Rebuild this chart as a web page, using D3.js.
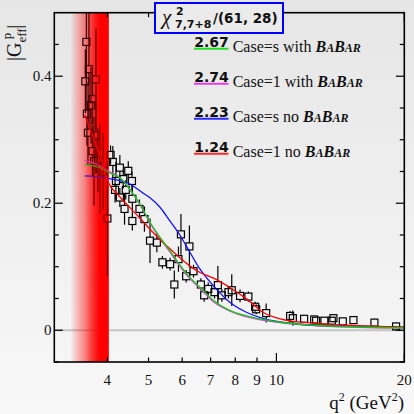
<!DOCTYPE html>
<html>
<head>
<meta charset="utf-8">
<script src="https://cdn.jsdelivr.net/npm/d3@7"></script>
<style>
  html, body { margin: 0; padding: 0; background: #eee; }
  svg { display: block; }
</style>
</head>
<body>
<div id="chart"></div>
<script>
const W = 414, H = 414;

// red band: fade start, fully red, end (q2 in GeV2)
const bandQ = [3.27, 3.84, 4.03];

// points inside the band
const bandPtQ = [3.57, 3.62, 3.55, 3.76, 3.69, 3.66, 3.58, 3.60, 3.76, 3.69, 3.72, 3.80, 3.84, 3.91, 4.00];
const bandPtG = [0.454, 0.411, 0.392, 0.395, 0.364, 0.354, 0.341, 0.311, 0.307, 0.282, 0.266, 0.268, 0.254, 0.250, 0.176];
const bandPtE = [0.07, 0.09, 0.05, 0.08, 0.04, 0.06, 0.05, 0.05, 0.06, 0.04, 0.07, 0.05, 0.07, 0.06, 0.09];

// points above threshold
const ptQ = [4.07, 4.12, 4.28, 4.48, 4.19, 4.36, 4.57, 4.17, 4.42, 4.58, 4.28, 4.39, 4.76, 4.58, 4.89,
  5.04, 5.23, 5.39, 5.62, 5.88, 5.96, 6.24, 6.13, 6.38, 5.75, 6.64, 6.76, 6.91, 7.15, 7.28, 7.44,
  7.71, 7.85, 8.21, 8.59, 8.91, 8.96, 9.46, 10.77, 10.93, 11.62, 12.27, 12.40, 12.97, 13.62, 13.50,
  14.33, 15.18, 17.01, 19.13];
const ptG = [0.276, 0.265, 0.256, 0.251, 0.235, 0.238, 0.235, 0.221, 0.221, 0.207, 0.209, 0.191, 0.191, 0.172, 0.175,
  0.141, 0.138, 0.107, 0.104, 0.112, 0.151, 0.132, 0.085, 0.093, 0.072, 0.072, 0.055, 0.065, 0.060, 0.071, 0.055,
  0.060, 0.063, 0.054, 0.053, 0.037, 0.033, 0.027, 0.0225, 0.019, 0.018, 0.017, 0.015, 0.015, 0.019, 0.015,
  0.014, 0.016, 0.012, 0.006];
const ptE = [0.015, 0.025, 0.02, 0.015, 0.03, 0.015, 0.015, 0.02, 0.015, 0.02, 0.015, 0.025, 0.015, 0.015, 0.02,
  0.035, 0.015, 0.01, 0.01, 0.02, 0.032, 0.033, 0.01, 0.01, 0.022, 0.01, 0.01, 0.01, 0.01, 0.03, 0.01,
  0.01, 0.025, 0.01, 0.008, 0.008, 0.008, 0.015, 0.008, 0.012, 0.005, 0.005, 0.005, 0.005, 0.005, 0.005,
  0.005, 0.005, 0.006, 0.006];

// fit curves
const greenQ = [3.54, 3.84, 4.04, 4.28, 4.52, 4.78, 5.04, 5.60, 6.20, 6.67, 7.11, 7.78, 8.52, 10.2, 12.22, 14.91, 20];
const greenG = [0.261, 0.256, 0.248, 0.240, 0.222, 0.198, 0.170, 0.126, 0.086, 0.065, 0.047, 0.031, 0.0225, 0.0126, 0.0079, 0.0055, 0.0039];
const magentaQ = [3.54, 3.84, 4.04, 4.28, 4.52, 4.78, 5.04, 5.60, 6.20, 6.67, 7.11, 7.78, 8.52, 10.2, 12.22, 14.91, 20];
const magentaG = [0.267, 0.259, 0.250, 0.240, 0.221, 0.197, 0.169, 0.124, 0.084, 0.063, 0.045, 0.030, 0.021, 0.012, 0.0075, 0.005, 0.0035];
const blueQ = [3.54, 3.91, 4.02, 4.44, 4.60, 4.86, 5.04, 5.32, 5.62, 5.93, 6.26, 6.61, 7.11, 7.78, 8.52, 9.32, 10.2, 12.22, 17.55, 20];
const blueG = [0.243, 0.2405, 0.239, 0.2326, 0.2272, 0.2157, 0.2087, 0.1937, 0.1717, 0.1496, 0.1224, 0.0961, 0.0698, 0.0436, 0.0279, 0.0184, 0.0131, 0.0079, 0.0058, 0.005];
const redQ = [3.54, 3.61, 3.74, 3.88, 4.02, 4.24, 4.52, 4.78, 5.04, 5.32, 5.62, 5.93, 6.26, 6.61, 7.11, 7.78, 8.52, 9.32, 10.2, 12.22, 14.65, 20];
const redG = [0.339, 0.324, 0.296, 0.267, 0.233, 0.213, 0.193, 0.176, 0.159, 0.143, 0.128, 0.114, 0.101, 0.091, 0.082, 0.067, 0.049, 0.028, 0.018, 0.011, 0.008, 0.005];

const xTickVals = [4, 5, 6, 7, 8, 9, 10, 20];
const xMajor = [10, 20];
const yTickVals = [0, 0.2, 0.4];
const yMinorVals = [-0.05, 0.05, 0.1, 0.15, 0.25, 0.3, 0.35, 0.45];

const legendVals = ['2.67', '2.74', '2.23', '1.24'];
const legendText = ['Case=s with', 'Case=1 with', 'Case=s no', 'Case=1 no'];
const legendColors = ['#22dd22', '#e23ee2', '#2a2aff', '#ff2a2a'];

const box = { left: 54.3, right: 404.3, top: 12.7, bottom: 362 };
const x = d3.scaleLog().domain([3, 20]).range([box.left, box.right]);
const y = d3.scaleLinear().domain([-0.05, 0.5]).range([box.bottom, box.top]);

const serif = '"Liberation Serif", "Times New Roman", serif';
const dejavu = '"DejaVu Sans", sans-serif';

const svg = d3.select('#chart').append('svg').attr('width', W).attr('height', H);
const defs = svg.append('defs');

const bg = defs.append('linearGradient').attr('id', 'bg').attr('x1', 0).attr('y1', 0).attr('x2', 0).attr('y2', 1);
bg.append('stop').attr('offset', 0).attr('stop-color', '#e6e6e6');
bg.append('stop').attr('offset', 1).attr('stop-color', '#f8f8f8');

const bandGrad = defs.append('linearGradient').attr('id', 'band')
  .attr('gradientUnits', 'userSpaceOnUse')
  .attr('x1', x(bandQ[0])).attr('x2', x(bandQ[2])).attr('y1', 0).attr('y2', 0);
const fullAt = (x(bandQ[1]) - x(bandQ[0])) / (x(bandQ[2]) - x(bandQ[0]));
bandGrad.append('stop').attr('offset', 0).attr('stop-color', '#ff0000').attr('stop-opacity', 0);
bandGrad.append('stop').attr('offset', fullAt * 0.5).attr('stop-color', '#ff0000').attr('stop-opacity', 0.35);
bandGrad.append('stop').attr('offset', fullAt).attr('stop-color', '#ff0000').attr('stop-opacity', 1);
bandGrad.append('stop').attr('offset', 1).attr('stop-color', '#ff0000').attr('stop-opacity', 1);

defs.append('clipPath').attr('id', 'plot').append('rect')
  .attr('x', box.left).attr('y', box.top)
  .attr('width', box.right - box.left).attr('height', box.bottom - box.top);

svg.append('rect').attr('width', W).attr('height', H).attr('fill', 'url(#bg)');

const plot = svg.append('g').attr('clip-path', 'url(#plot)');

// zero line
plot.append('line')
  .attr('x1', box.left).attr('x2', box.right)
  .attr('y1', y(0)).attr('y2', y(0))
  .attr('stroke', '#c4c4c4').attr('stroke-width', 2);

function drawBand(opacity) {
  plot.append('rect')
    .attr('x', x(bandQ[0])).attr('width', x(bandQ[2]) - x(bandQ[0]))
    .attr('y', box.top).attr('height', box.bottom - box.top)
    .attr('fill', 'url(#band)').attr('opacity', opacity);
}
drawBand(1);

// data points
const pts = ptQ.map((q, i) => ({ q, g: ptG[i], e: ptE[i] }))
  .concat(bandPtQ.map((q, i) => ({ q, g: bandPtG[i], e: bandPtE[i] })));
const half = 3.5;
const pg = plot.append('g').attr('stroke', '#000').attr('stroke-width', 1.2).attr('fill', 'none');
pts.forEach((d) => {
  const cx = x(d.q), cy = y(d.g);
  if (y(d.g + d.e) < cy - half) {
    pg.append('line').attr('x1', cx).attr('x2', cx).attr('y1', y(d.g + d.e)).attr('y2', cy - half);
  }
  if (y(d.g - d.e) > cy + half) {
    pg.append('line').attr('x1', cx).attr('x2', cx).attr('y1', cy + half).attr('y2', y(d.g - d.e));
  }
  pg.append('rect').attr('x', cx - half).attr('y', cy - half).attr('width', 2 * half).attr('height', 2 * half);
});

// curves
const line = d3.line().x((d) => x(d[0])).y((d) => y(d[1])).curve(d3.curveMonotoneX);
const curves = [
  [magentaQ, magentaG, '#e23ee2'],
  [blueQ, blueG, '#1010ff'],
  [redQ, redG, '#ff0000'],
  [greenQ, greenG, '#10cc10'],
];
curves.forEach(([qs, gs, c]) => {
  plot.append('path')
    .datum(qs.map((q, i) => [q, gs[i]]))
    .attr('d', line)
    .attr('fill', 'none')
    .attr('stroke', c)
    .attr('stroke-width', 1.3);
});

// half-transparent red over the marks inside the band
drawBand(0.5);

// frame and ticks
const ax = svg.append('g').attr('stroke', '#000').attr('stroke-width', 1.2);
xTickVals.forEach((v) => {
  const len = xMajor.includes(v) ? 9 : 4.5;
  ax.append('line').attr('x1', x(v)).attr('x2', x(v)).attr('y1', box.bottom).attr('y2', box.bottom - len);
  ax.append('line').attr('x1', x(v)).attr('x2', x(v)).attr('y1', box.top).attr('y2', box.top + len);
});
yTickVals.concat(yMinorVals).forEach((v) => {
  const len = yTickVals.includes(v) ? 8.5 : 4.5;
  ax.append('line').attr('x1', box.left).attr('x2', box.left + len).attr('y1', y(v)).attr('y2', y(v));
  ax.append('line').attr('x1', box.right).attr('x2', box.right - len).attr('y1', y(v)).attr('y2', y(v));
});
svg.append('rect')
  .attr('x', box.left).attr('y', box.top)
  .attr('width', box.right - box.left).attr('height', box.bottom - box.top)
  .attr('fill', 'none').attr('stroke', '#000').attr('stroke-width', 1.6);

// tick labels
svg.append('g').selectAll('text').data(xTickVals).join('text')
  .attr('x', (d) => x(d)).attr('y', 385)
  .attr('text-anchor', 'middle')
  .style('font', `15px ${serif}`).attr('fill', '#111')
  .text((d) => d);
svg.append('g').selectAll('text').data(yTickVals).join('text')
  .attr('x', 51.5).attr('y', (d) => y(d) + 5)
  .attr('text-anchor', 'end')
  .style('font', `15px ${serif}`).attr('fill', '#111')
  .text((d) => d3.format('.1f')(d).replace('0.0', '0'));

// axis titles
const xt = svg.append('text').attr('x', 404).attr('y', 409).attr('text-anchor', 'end')
  .style('font', `19px ${serif}`).attr('fill', '#111');
xt.append('tspan').text('q');
xt.append('tspan').attr('dy', -8).style('font-size', '12px').text('2');
xt.append('tspan').attr('dy', 8).text(' (GeV');
xt.append('tspan').attr('dy', -8).style('font-size', '12px').text('2');
xt.append('tspan').attr('dy', 8).text(')');

const yt = svg.append('text').attr('transform', 'translate(21,61) rotate(-90)')
  .style('font', `20px ${serif}`).attr('fill', '#111');
yt.append('tspan').text('|G');
yt.append('tspan').attr('dy', 5).style('font-size', '13px').text('eff');
yt.append('tspan').attr('dx', -11).attr('dy', -15).style('font-size', '13px').text('p');
yt.append('tspan').attr('dx', 4).attr('dy', 10).text('|');

// chi2 title box
svg.append('rect').attr('x', 155).attr('y', 3).attr('width', 128).attr('height', 30)
  .attr('fill', '#ebebeb').attr('stroke', '#0000ff').attr('stroke-width', 2);
svg.append('text').attr('x', 162).attr('y', 24).attr('fill', '#111')
  .style('font', `italic 21px ${serif}`).text('χ');
svg.append('text').attr('x', 176).attr('y', 15).attr('fill', '#111')
  .style('font', `bold 11px ${dejavu}`).text('2');
svg.append('text').attr('x', 175).attr('y', 28).attr('fill', '#111')
  .style('font', `bold 11px ${dejavu}`).text('7,7+8');
svg.append('text').attr('x', 213).attr('y', 23).attr('fill', '#111')
  .style('font', `bold 13.5px ${dejavu}`).text('/(61, 28)');

// legend
legendVals.forEach((v, i) => {
  const by = 46.7 + i * 35;
  svg.append('text').attr('x', 194.3).attr('y', by)
    .style('font', `bold 14px ${dejavu}`).attr('fill', '#111').text(v);
  svg.append('line').attr('x1', 194).attr('x2', 228.5).attr('y1', by + 2).attr('y2', by + 2)
    .attr('stroke', legendColors[i]).attr('stroke-width', 2);
  const t = svg.append('text').attr('x', 232.7).attr('y', by + 5.5)
    .style('font', `16px ${serif}`).attr('fill', '#111');
  t.append('tspan').text(legendText[i] + ' ');
  const b = `bold italic 16px ${serif}`, s = `bold italic 12px ${serif}`;
  t.append('tspan').style('font', b).text('B');
  t.append('tspan').style('font', s).text('A');
  t.append('tspan').style('font', b).text('B');
  t.append('tspan').style('font', s).text('AR');
});
</script>
</body>
</html>
